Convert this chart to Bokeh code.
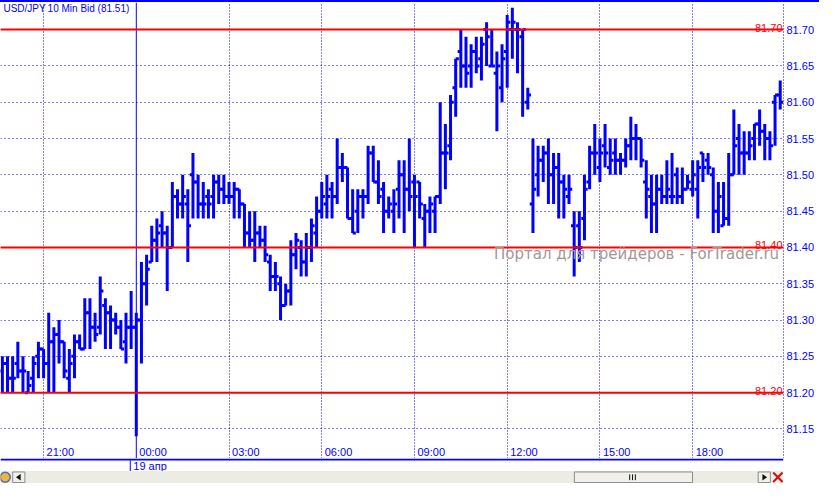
from bokeh.plotting import figure
from bokeh.models import (Range1d, FixedTicker, NumeralTickFormatter, Label, Span,
                          ColumnDataSource, Grid, Div)
from bokeh.layouts import column
from bokeh.core.properties import value
from bokeh.embed import file_html
from bokeh.resources import INLINE

BLUE = "#0000FF"
RED = "#FF0000"
FONT = "Liberation Sans"

# ---------------- data ----------------
# bars are 10-minute steps; index 0 is 00:00 on 19 Apr
first_bar = -26
opens = [
    81.23, 81.24, 81.22, 81.24, 81.23, 81.20, 81.22, 81.25,
    81.26, 81.24, 81.27, 81.28, 81.27, 81.22, 81.25, 81.27,
    81.26, 81.31, 81.29, 81.29, 81.32, 81.31, 81.30, 81.29,
    81.27, 81.29, 81.29, 81.30, 81.35, 81.38, 81.41, 81.43,
    81.42, 81.40, 81.47, 81.46, 81.46, 81.50, 81.49, 81.46,
    81.47, 81.47, 81.49, 81.48, 81.47, 81.47, 81.48, 81.46,
    81.42, 81.41, 81.42, 81.41, 81.38, 81.36, 81.35, 81.32,
    81.34, 81.39, 81.40, 81.38, 81.40, 81.42, 81.45, 81.46,
    81.48, 81.47, 81.51, 81.51, 81.44, 81.45, 81.47, 81.47,
    81.53, 81.49, 81.48, 81.45, 81.45, 81.48, 81.50, 81.48,
    81.49, 81.49, 81.44, 81.45, 81.45, 81.47, 81.53, 81.54,
    81.62, 81.67, 81.65, 81.65, 81.67, 81.66, 81.70, 81.65,
    81.64, 81.62, 81.67, 81.70, 81.70, 81.69, 81.60, 81.46,
    81.50, 81.52, 81.53, 81.50, 81.51, 81.49, 81.47, 81.43,
    81.43, 81.44, 81.49, 81.53, 81.51, 81.54, 81.51, 81.53,
    81.52, 81.52, 81.54, 81.55, 81.55, 81.49, 81.47, 81.46,
    81.48, 81.47, 81.47, 81.50, 81.47, 81.48, 81.48, 81.48,
    81.53, 81.52, 81.50, 81.45, 81.43, 81.44, 81.50, 81.55,
    81.53, 81.53, 81.55, 81.57, 81.56, 81.55, 81.60, 81.61,
]
highs = [
    81.25, 81.25, 81.25, 81.27, 81.25, 81.23, 81.25, 81.27,
    81.26, 81.31, 81.29, 81.30, 81.27, 81.26, 81.28, 81.28,
    81.33, 81.33, 81.31, 81.36, 81.33, 81.32, 81.31, 81.30,
    81.31, 81.34, 81.31, 81.38, 81.39, 81.43, 81.44, 81.45,
    81.43, 81.49, 81.48, 81.50, 81.48, 81.53, 81.50, 81.49,
    81.48, 81.50, 81.50, 81.50, 81.49, 81.49, 81.48, 81.46,
    81.45, 81.45, 81.43, 81.43, 81.39, 81.38, 81.36, 81.35,
    81.41, 81.42, 81.41, 81.42, 81.44, 81.47, 81.49, 81.50,
    81.49, 81.55, 81.53, 81.51, 81.48, 81.48, 81.48, 81.54,
    81.54, 81.52, 81.49, 81.47, 81.48, 81.52, 81.52, 81.55,
    81.50, 81.49, 81.46, 81.47, 81.47, 81.60, 81.57, 81.61,
    81.66, 81.70, 81.69, 81.68, 81.69, 81.69, 81.71, 81.70,
    81.67, 81.68, 81.72, 81.73, 81.71, 81.70, 81.62, 81.55,
    81.54, 81.54, 81.55, 81.53, 81.53, 81.50, 81.50, 81.45,
    81.45, 81.50, 81.54, 81.57, 81.55, 81.57, 81.55, 81.55,
    81.53, 81.55, 81.58, 81.57, 81.55, 81.52, 81.50, 81.50,
    81.50, 81.52, 81.53, 81.51, 81.51, 81.50, 81.52, 81.52,
    81.53, 81.53, 81.51, 81.49, 81.49, 81.53, 81.59, 81.57,
    81.56, 81.56, 81.57, 81.59, 81.57, 81.56, 81.61, 81.63,
]
lows = [
    81.20, 81.20, 81.20, 81.22, 81.20, 81.20, 81.20, 81.22,
    81.22, 81.20, 81.20, 81.24, 81.22, 81.20, 81.22, 81.26,
    81.26, 81.26, 81.27, 81.28, 81.26, 81.26, 81.28, 81.26,
    81.24, 81.26, 81.14, 81.24, 81.32, 81.38, 81.38, 81.40,
    81.34, 81.40, 81.44, 81.44, 81.38, 81.44, 81.44, 81.44,
    81.44, 81.44, 81.46, 81.46, 81.46, 81.44, 81.44, 81.40,
    81.40, 81.38, 81.40, 81.38, 81.34, 81.34, 81.30, 81.32,
    81.32, 81.37, 81.36, 81.36, 81.38, 81.40, 81.44, 81.44,
    81.44, 81.46, 81.49, 81.44, 81.42, 81.42, 81.44, 81.46,
    81.49, 81.46, 81.42, 81.44, 81.42, 81.44, 81.42, 81.45,
    81.40, 81.44, 81.40, 81.42, 81.42, 81.46, 81.48, 81.52,
    81.58, 81.62, 81.62, 81.62, 81.64, 81.63, 81.65, 81.65,
    81.56, 81.60, 81.62, 81.66, 81.64, 81.58, 81.59, 81.42,
    81.47, 81.49, 81.46, 81.46, 81.44, 81.44, 81.46, 81.36,
    81.38, 81.41, 81.48, 81.50, 81.49, 81.51, 81.50, 81.50,
    81.50, 81.51, 81.52, 81.52, 81.51, 81.44, 81.42, 81.42,
    81.46, 81.46, 81.46, 81.46, 81.46, 81.48, 81.47, 81.44,
    81.49, 81.50, 81.42, 81.42, 81.43, 81.43, 81.50, 81.50,
    81.50, 81.52, 81.52, 81.54, 81.52, 81.52, 81.54, 81.59,
]
closes = [
    81.24, 81.22, 81.22, 81.23, 81.23, 81.21, 81.24, 81.26,
    81.24, 81.27, 81.28, 81.27, 81.23, 81.24, 81.27, 81.26,
    81.31, 81.29, 81.28, 81.34, 81.31, 81.30, 81.29, 81.26,
    81.29, 81.29, 81.30, 81.35, 81.37, 81.41, 81.42, 81.42,
    81.40, 81.47, 81.46, 81.47, 81.43, 81.49, 81.46, 81.46,
    81.46, 81.49, 81.48, 81.47, 81.47, 81.48, 81.46, 81.42,
    81.41, 81.42, 81.41, 81.39, 81.36, 81.36, 81.32, 81.34,
    81.39, 81.41, 81.38, 81.40, 81.43, 81.45, 81.47, 81.47,
    81.47, 81.51, 81.51, 81.44, 81.42, 81.47, 81.47, 81.53,
    81.49, 81.47, 81.45, 81.46, 81.46, 81.50, 81.48, 81.47,
    81.47, 81.46, 81.45, 81.46, 81.47, 81.53, 81.53, 81.60,
    81.66, 81.65, 81.64, 81.67, 81.65, 81.68, 81.69, 81.65,
    81.65, 81.66, 81.71, 81.71, 81.70, 81.70, 81.61, 81.48,
    81.52, 81.53, 81.50, 81.51, 81.49, 81.48, 81.48, 81.40,
    81.40, 81.48, 81.53, 81.53, 81.53, 81.53, 81.52, 81.52,
    81.52, 81.54, 81.55, 81.55, 81.52, 81.48, 81.46, 81.48,
    81.47, 81.48, 81.47, 81.47, 81.48, 81.49, 81.50, 81.51,
    81.51, 81.51, 81.45, 81.47, 81.44, 81.50, 81.54, 81.53,
    81.53, 81.54, 81.57, 81.56, 81.55, 81.54, 81.61, 81.60,
]

time_ticks = [-18, 0, 18, 36, 54, 72, 90, 108]
time_labels = ["21:00", "00:00", "03:00", "06:00", "09:00", "12:00", "15:00", "18:00"]
day_tick = 0
day_label = "19 апр"
price_ticks = [81.15, 81.20, 81.25, 81.30, 81.35, 81.40, 81.45, 81.50,
               81.55, 81.60, 81.65, 81.70]
levels = [81.70, 81.40, 81.20]
title_symbol = "USD/JPY"
title_info = "10 Min Bid (81.51)"
watermark = "Портал для трейдеров - ForTrader.ru"

# ---------------- geometry helpers (reference pixel -> data) ----------------
def rx(X):
    return (X - 138.4) / 5.25

def ry(Y):
    return 81.70 - (Y - 30) / 750.0

W = 819
H_TOP = 2
H_MAIN = 456
H_BOT = 25
TICK = 0.62

k = list(range(first_bar, first_bar + len(opens)))
src = ColumnDataSource(dict(
    k=k, o=opens, h=highs, l=lows, c=closes,
    kl=[x - TICK for x in k], kr=[x + TICK for x in k],
))

p = figure(width=W, height=H_MAIN,
           x_range=Range1d(rx(0), rx(798)), y_range=Range1d(ry(473), ry(2)),
           output_backend="svg", toolbar_location=None,
           x_axis_location=None, y_axis_location="right",
           min_border_left=0, min_border_top=0, min_border_bottom=0, min_border_right=36,
           background_fill_color="white", border_fill_color="white",
           outline_line_color=None)
p.xgrid.visible = False
p.ygrid.visible = False

# grids
p.add_layout(Grid(dimension=0, ticker=FixedTicker(ticks=[t for t in time_ticks if t != day_tick]),
                  grid_line_color=BLUE, grid_line_dash="1 2", grid_line_width=1))
p.add_layout(Grid(dimension=1, ticker=FixedTicker(ticks=price_ticks),
                  grid_line_color=BLUE, grid_line_dash="1 3", grid_line_width=1))
p.add_layout(Span(location=day_tick, dimension="height", line_color=BLUE,
                  line_width=1, level="underlay"))

# right price axis
ax = p.yaxis[0]
ax.ticker = FixedTicker(ticks=price_ticks)
ax.formatter = NumeralTickFormatter(format="0.00")
ax.axis_line_color = BLUE
ax.axis_line_dash = "1 2"
ax.axis_line_width = 1
ax.major_tick_line_color = None
ax.minor_tick_line_color = None
ax.major_tick_out = 0
ax.major_tick_in = 0
ax.major_label_standoff = 3
ax.major_label_text_color = BLUE
ax.major_label_text_font = FONT
ax.major_label_text_font_size = "11px"

# OHLC bars
p.segment("k", "l", "k", "h", source=src, line_color=BLUE, line_width=3)
p.segment("kl", "o", "k", "o", source=src, line_color=BLUE, line_width=3)
p.segment("k", "c", "kr", "c", source=src, line_color=BLUE, line_width=3)

# horizontal level lines and their labels
for lv in levels:
    p.add_layout(Span(location=lv, dimension="width", line_color=RED, line_width=2))
p.text(x=[rx(797)] * len(levels), y=levels, text=["%.2f" % v for v in levels],
       text_color=RED, text_font=value(FONT), text_font_size="11px",
       text_align="right", text_baseline="alphabetic", y_offset=-2)

# time labels inside the chart
p.text(x=time_ticks, y=[ry(466)] * len(time_ticks), text=time_labels,
       x_offset=3, text_color=BLUE, text_font=value(FONT), text_font_size="11px",
       text_align="left", text_baseline="middle")

# title texts
p.text(x=[rx(3), rx(48)], y=[ry(8), ry(8)], text=[title_symbol, title_info],
       text_color=BLUE, text_font=value(FONT), text_font_size="10px",
       text_align="left", text_baseline="middle")

# watermark (kept inside the frame so that it is not clipped)
p.add_layout(Label(x=rx(503), y=ry(262), text=watermark, text_font="DejaVu Sans",
                   text_font_size="15px", text_color="#a39797", text_alpha=1.0,
                   text_baseline="middle", text_align="left"))

# ---------------- bottom strip: date label + scrollbar ----------------
s = figure(width=W, height=H_BOT, x_range=Range1d(rx(0), rx(835)),
           y_range=Range1d(499, 473), output_backend="svg", toolbar_location=None,
           x_axis_location=None, y_axis_location=None,
           min_border_left=0, min_border_top=0, min_border_bottom=0, min_border_right=0,
           background_fill_color="white", border_fill_color="white",
           outline_line_color=None)
s.xgrid.visible = False
s.ygrid.visible = False

s.quad(left=[rx(0)], right=[rx(835)], top=[473], bottom=[475], fill_color=BLUE, line_color=None)
s.segment(x0=[day_tick], y0=[475], x1=[day_tick], y1=[486], line_color=BLUE, line_width=1)
s.text(x=[day_tick], y=[480.5], text=[day_label], x_offset=3, text_color=BLUE,
       text_font=value(FONT), text_font_size="11px", text_align="left", text_baseline="middle")

# scrollbar chrome
s.quad(left=[rx(0)], right=[rx(835)], top=[486], bottom=[499], fill_color="#ECEBE4", line_color=None)
s.quad(left=[rx(13), rx(808), rx(612)], right=[rx(26), rx(821), rx(738)],
       top=[487, 487, 487], bottom=[498, 498, 498],
       fill_color="#F1F0EA", line_color="#8C8C8C", line_width=1)
s.patches(xs=[[rx(16.5), rx(21.5), rx(21.5)], [rx(817.5), rx(812.5), rx(812.5)]],
          ys=[[492.5, 489, 496], [492.5, 489, 496]], fill_color="#111111", line_color=None)
s.segment(x0=[rx(671), rx(674), rx(677)], y0=[489.5] * 3, x1=[rx(671), rx(674), rx(677)],
          y1=[495.5] * 3, line_color="#111111", line_width=1)
s.scatter(x=[rx(5)], y=[492.5], size=10, fill_color="#F2B33D", line_color="#4A6FB5", line_width=1.5)
s.segment(x0=[rx(824), rx(824)], y0=[487.5, 497.5], x1=[rx(834), rx(834)], y1=[497.5, 487.5],
          line_color="#D01010", line_width=2)

top_line = Div(text="", width=W, height=H_TOP, margin=(0, 0, 0, 0),
               styles={"background-color": BLUE})

layout = column(top_line, p, s, spacing=0)

open("out.html", "w").write(file_html(layout, INLINE))
